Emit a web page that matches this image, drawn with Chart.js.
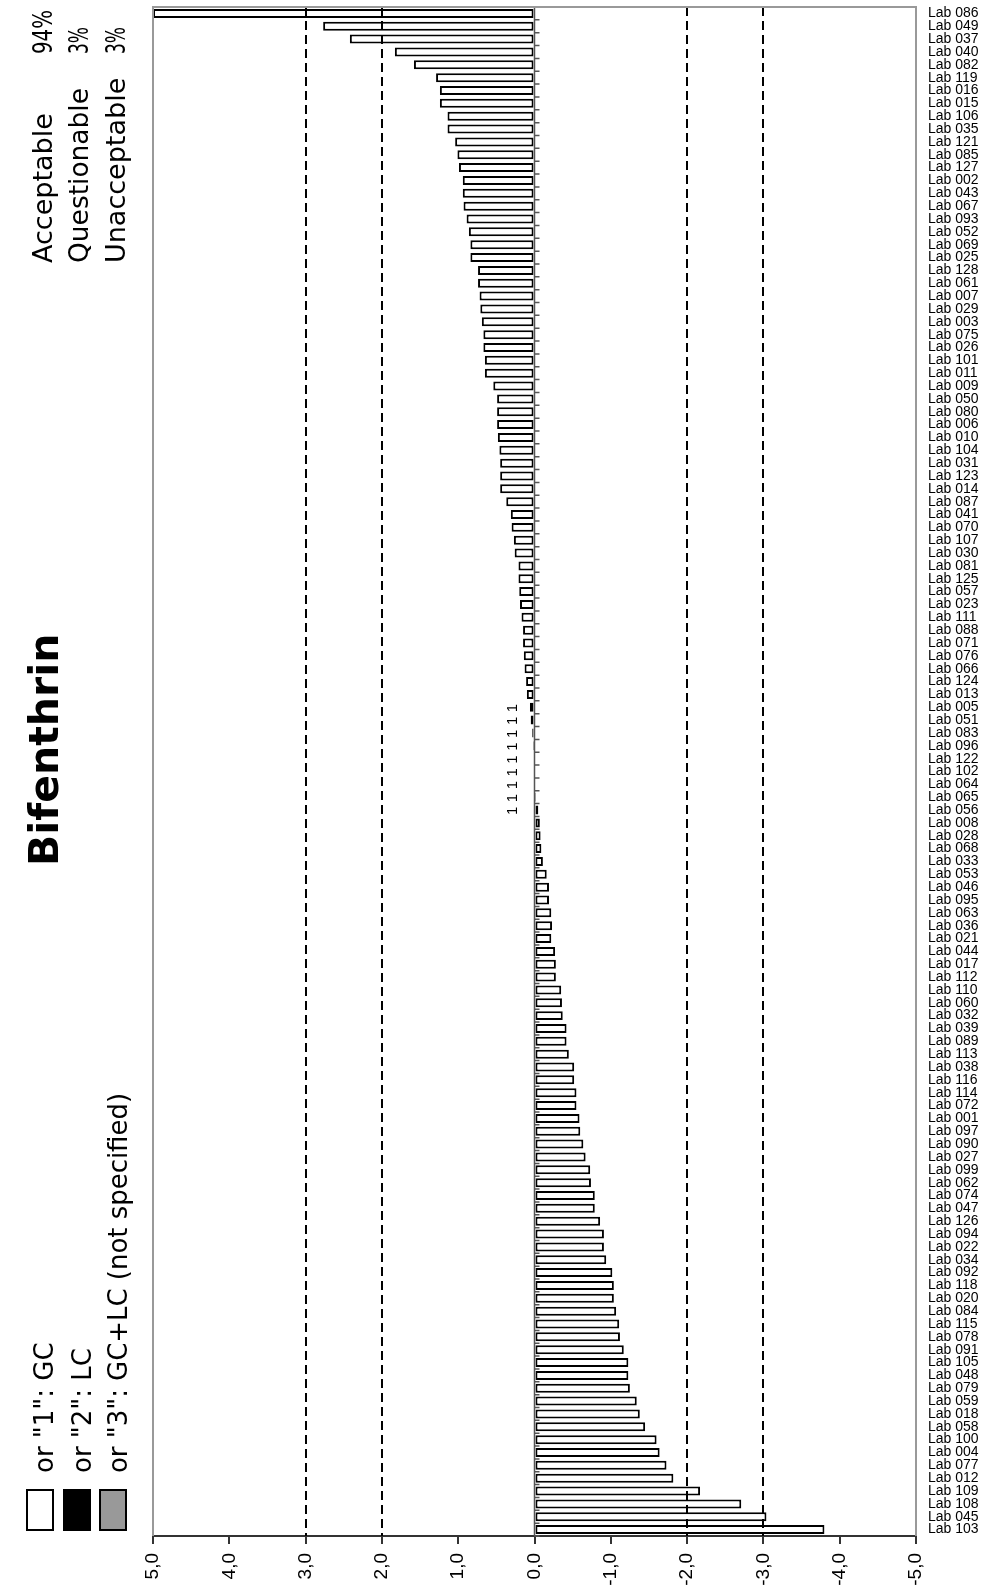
<!DOCTYPE html>
<html>
<head>
<meta charset="utf-8">
<script src="https://cdn.jsdelivr.net/npm/chart.js@4.4.1/dist/chart.umd.min.js"></script>
<style>
  html, body { margin: 0; padding: 0; background: #fff; }
  #wrap { width: 981px; height: 1595px; position: relative; }
</style>
</head>
<body>
<div id="wrap"><canvas id="zchart"></canvas></div>
<script>
"use strict";
// labs in plotted order, top to bottom
const labs = [
    "Lab 086", "Lab 049", "Lab 037", "Lab 040", "Lab 082", "Lab 119", "Lab 016", "Lab 015", "Lab 106", "Lab 035",
    "Lab 121", "Lab 085", "Lab 127", "Lab 002", "Lab 043", "Lab 067", "Lab 093", "Lab 052", "Lab 069", "Lab 025",
    "Lab 128", "Lab 061", "Lab 007", "Lab 029", "Lab 003", "Lab 075", "Lab 026", "Lab 101", "Lab 011", "Lab 009",
    "Lab 050", "Lab 080", "Lab 006", "Lab 010", "Lab 104", "Lab 031", "Lab 123", "Lab 014", "Lab 087", "Lab 041",
    "Lab 070", "Lab 107", "Lab 030", "Lab 081", "Lab 125", "Lab 057", "Lab 023", "Lab 111", "Lab 088", "Lab 071",
    "Lab 076", "Lab 066", "Lab 124", "Lab 013", "Lab 005", "Lab 051", "Lab 083", "Lab 096", "Lab 122", "Lab 102",
    "Lab 064", "Lab 065", "Lab 056", "Lab 008", "Lab 028", "Lab 068", "Lab 033", "Lab 053", "Lab 046", "Lab 095",
    "Lab 063", "Lab 036", "Lab 021", "Lab 044", "Lab 017", "Lab 112", "Lab 110", "Lab 060", "Lab 032", "Lab 039",
    "Lab 089", "Lab 113", "Lab 038", "Lab 116", "Lab 114", "Lab 072", "Lab 001", "Lab 097", "Lab 090", "Lab 027",
    "Lab 099", "Lab 062", "Lab 074", "Lab 047", "Lab 126", "Lab 094", "Lab 022", "Lab 034", "Lab 092", "Lab 118",
    "Lab 020", "Lab 084", "Lab 115", "Lab 078", "Lab 091", "Lab 105", "Lab 048", "Lab 079", "Lab 059", "Lab 018",
    "Lab 058", "Lab 100", "Lab 004", "Lab 077", "Lab 012", "Lab 109", "Lab 108", "Lab 045", "Lab 103"
];
const zScores = [
    5.0, 2.77, 2.42, 1.83, 1.58, 1.29, 1.24, 1.24, 1.14, 1.14,
    1.04, 1.01, 0.99, 0.94, 0.94, 0.93, 0.89, 0.86, 0.84, 0.84,
    0.74, 0.74, 0.72, 0.71, 0.69, 0.67, 0.67, 0.65, 0.65, 0.54,
    0.49, 0.49, 0.49, 0.48, 0.46, 0.45, 0.45, 0.45, 0.37, 0.31,
    0.30, 0.27, 0.26, 0.21, 0.21, 0.20, 0.19, 0.17, 0.15, 0.15,
    0.14, 0.13, 0.11, 0.10, 0.06, 0.05, 0.03, 0.02, 0, 0,
    0, -0.02, -0.05, -0.07, -0.08, -0.09, -0.11, -0.16, -0.19, -0.19,
    -0.22, -0.23, -0.22, -0.27, -0.28, -0.28, -0.35, -0.36, -0.37, -0.42,
    -0.42, -0.45, -0.52, -0.52, -0.55, -0.55, -0.59, -0.60, -0.64, -0.67,
    -0.73, -0.74, -0.79, -0.79, -0.86, -0.91, -0.91, -0.94, -1.02, -1.04,
    -1.04, -1.07, -1.11, -1.12, -1.17, -1.23, -1.23, -1.25, -1.34, -1.38,
    -1.45, -1.60, -1.64, -1.73, -1.82, -2.17, -2.71, -3.04, -3.80
];
// method code marks shown next to the smallest bars
const methodMarks = labs.map((lab, i) => (i >= 54 && i <= 62) ? "1" : "");
const limitLines = [3, 2, -2, -3];
const statNames = ["Acceptable", "Questionable", "Unacceptable"];
const statPercents = ["94%", "3%", "3%"];
const legendTexts = ['or "1": GC', 'or "2": LC', 'or "3": GC+LC (not specified)'];
const legendFills = ["#ffffff", "#000000", "#999999"];
const chartTitle = "Bifenthrin";

const sideFont = '"DejaVu Sans", sans-serif';

// text reading bottom to top, starting at (x, y) with baseline at x
function upText(ctx, text, x, y, font, maxLen) {
    ctx.save();
    ctx.translate(x, y);
    ctx.rotate(-Math.PI / 2);
    ctx.font = font;
    ctx.textAlign = "left";
    ctx.textBaseline = "alphabetic";
    ctx.fillStyle = "#000";
    if (maxLen) {
        ctx.fillText(text, 0, 0, maxLen);
    } else {
        ctx.fillText(text, 0, 0);
    }
    ctx.restore();
}

const framePlugin = {
    id: "frame",
    beforeDatasetsDraw(chart) {
        const { ctx, chartArea: a, scales } = chart;
        const x0 = scales.x.getPixelForValue(0);
        ctx.save();
        // zero line with small ticks between categories
        ctx.strokeStyle = "#555";
        ctx.lineWidth = 1.5;
        ctx.beginPath();
        ctx.moveTo(x0, a.top);
        ctx.lineTo(x0, a.bottom);
        for (let i = 0; i <= labs.length; i++) {
            const y = scales.y.getPixelForValue(i - 0.5);
            ctx.moveTo(x0, y);
            ctx.lineTo(x0 + 5, y);
        }
        ctx.stroke();
        ctx.restore();
    },
    afterDatasetsDraw(chart) {
        const { ctx, chartArea: a, scales } = chart;
        ctx.save();
        // limit lines
        ctx.strokeStyle = "#000";
        ctx.lineWidth = 2;
        ctx.setLineDash([9, 5]);
        limitLines.forEach(v => {
            const x = Math.round(scales.x.getPixelForValue(v));
            ctx.beginPath();
            ctx.moveTo(x, a.top);
            ctx.lineTo(x, a.bottom);
            ctx.stroke();
        });
        ctx.setLineDash([]);
        // plot border (left, top, right)
        ctx.strokeStyle = "#999";
        ctx.lineWidth = 2;
        ctx.beginPath();
        ctx.moveTo(a.left, a.bottom);
        ctx.lineTo(a.left, a.top);
        ctx.lineTo(a.right, a.top);
        ctx.lineTo(a.right, a.bottom);
        ctx.stroke();
        ctx.restore();

        // method marks
        const x0 = scales.x.getPixelForValue(0);
        methodMarks.forEach((m, i) => {
            if (!m) return;
            const y = scales.y.getPixelForValue(i);
            upText(ctx, m, x0 - 18, y + 5, '15px "Liberation Sans", Arial, sans-serif');
        });
    },
    afterDraw(chart) {
        const ctx = chart.ctx;
        // title
        upText(ctx, chartTitle, 58, 866, 'bold 41px ' + sideFont, 234);
        // stats block
        const statX = [52, 88, 125];
        const statLen = [153, 175, 188];
        const pctLen = [44, 27, 27];
        statNames.forEach((s, i) => {
            upText(ctx, s, statX[i], 263, '27px ' + sideFont, statLen[i]);
            upText(ctx, statPercents[i], statX[i], 54, '27px ' + sideFont, pctLen[i]);
        });
        // legend
        const boxX = [27, 64, 100];
        const textX = [53, 91, 127];
        legendTexts.forEach((t, i) => {
            ctx.save();
            ctx.fillStyle = legendFills[i];
            ctx.strokeStyle = "#000";
            ctx.lineWidth = 2;
            ctx.fillRect(boxX[i], 1490, 26, 40);
            ctx.strokeRect(boxX[i], 1490, 26, 40);
            ctx.restore();
            upText(ctx, t, textX[i], 1473, '26px ' + sideFont, 380);
        });
    }
};

const chart = new Chart(document.getElementById("zchart"), {
    type: "bar",
    data: {
        labels: labs,
        datasets: [{
            data: zScores,
            backgroundColor: "#ffffff",
            borderColor: "#000000",
            borderWidth: 2,
            borderSkipped: false,
            barPercentage: 0.7,
            categoryPercentage: 1.0,
            clip: 0
        }]
    },
    options: {
        indexAxis: "y",
        responsive: true,
        maintainAspectRatio: false,
        animation: false,
        layout: { padding: { left: 153, top: 7, right: 0, bottom: 0 } },
        plugins: {
            legend: { display: false },
            tooltip: { enabled: false },
            title: { display: false }
        },
        scales: {
            x: {
                type: "linear",
                position: "bottom",
                min: -5,
                max: 5,
                reverse: true,
                ticks: {
                    stepSize: 1,
                    minRotation: 90,
                    maxRotation: 90,
                    padding: 9,
                    color: "#000",
                    font: { family: '"Liberation Sans", Arial, sans-serif', size: 19 },
                    callback: v => v.toFixed(1).replace(".", ",")
                },
                grid: {
                    drawOnChartArea: false,
                    drawTicks: true,
                    tickLength: 8,
                    color: "#333",
                    lineWidth: 2
                },
                border: { color: "#333", width: 2 },
                afterFit: s => { s.height = 59; s.paddingLeft = 0; s.paddingRight = 0; }
            },
            y: {
                position: "right",
                ticks: {
                    autoSkip: false,
                    padding: 4,
                    color: "#000",
                    font: { family: '"Liberation Sans", Arial, sans-serif', size: 14 }
                },
                grid: { display: false },
                border: { display: false },
                afterFit: s => { s.width = 65; s.paddingTop = 0; s.paddingBottom = 0; }
            }
        }
    },
    plugins: [framePlugin]
});
</script>
</body>
</html>
